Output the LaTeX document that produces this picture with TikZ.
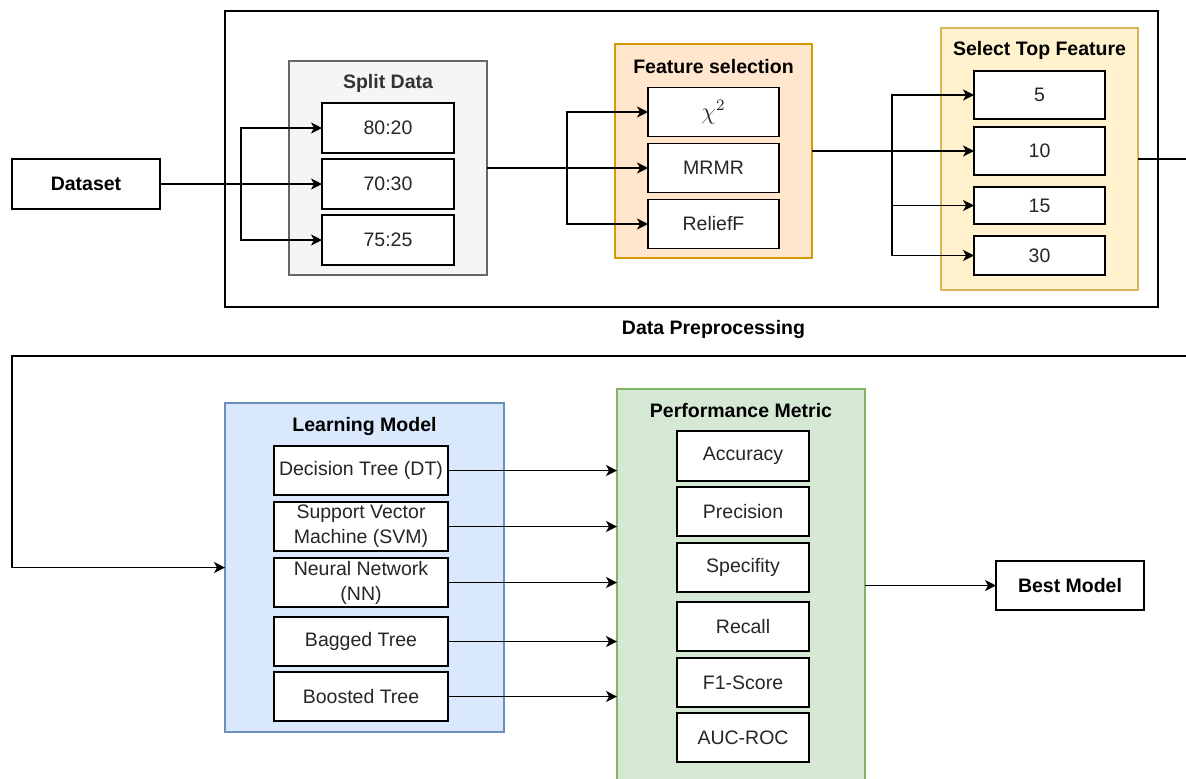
\documentclass[tikz,border=0pt]{standalone}
\usepackage{fontspec}
\setmainfont{Liberation Sans}
\usepackage{tikz}
\usetikzlibrary{arrows.meta,positioning}
\usepackage{xcolor}
\definecolor{splitfill}{HTML}{f5f5f5}
\definecolor{splitdraw}{HTML}{666666}
\definecolor{splittext}{HTML}{333333}
\definecolor{featfill}{HTML}{ffe6cc}
\definecolor{featdraw}{HTML}{d79b00}
\definecolor{topfill}{HTML}{fff2cc}
\definecolor{topdraw}{HTML}{d6b656}
\definecolor{learnfill}{HTML}{dae8fc}
\definecolor{learndraw}{HTML}{6c8ebf}
\definecolor{perffill}{HTML}{d5e8d4}
\definecolor{perfdraw}{HTML}{82b366}

\begin{document}
\begin{tikzpicture}[x=0.5pt,y=-0.5pt,
    font=\fontsize{9.75}{12.5}\selectfont,
    item/.style={draw=black,line width=0.75pt,fill=white,inner sep=1pt,outer sep=0pt,align=center,text=black!85},
    group/.style={line width=0.6pt,outer sep=0pt},
    grouptitle/.style={font=\fontsize{9.75}{12.5}\selectfont\bfseries,anchor=center,yshift=-11pt},
    arr/.style={line width=0.6pt,-{Stealth[length=5.5pt,width=5.5pt,inset=1.5pt]}},
    link/.style={line width=0.6pt}]
  \useasboundingbox (0,0) rectangle (1186,778);
  \clip (0,0) rectangle (1186,778);
  \fill[white] (0,0) rectangle (1186,778);

  \node[draw=black,line width=0.75pt,outer sep=0pt,minimum width=74pt,minimum height=25pt,font=\fontsize{9.75}{12.5}\selectfont\bfseries] (dataset) at (86,184) {Dataset};

  \node[draw=black,line width=0.75pt,minimum width=466.5pt,minimum height=148pt,
        label={[grouptitle,xshift=11pt]south:Data Preprocessing}] (prep) at (691.5,159) {};

  \node[group,fill=splitfill,draw=splitdraw,minimum width=99pt,minimum height=107pt,
        label={[grouptitle,text=splittext]north:Split Data}] (split) at (388,168) {};
  \node[item,minimum width=66pt,minimum height=25pt] (s8020) at (388,128) {80:20};
  \node[item,minimum width=66pt,minimum height=25pt,below=3pt of s8020] (s7030) {70:30};
  \node[item,minimum width=66pt,minimum height=25pt,below=3pt of s7030] (s7525) {75:25};

  \node[group,fill=featfill,draw=featdraw,minimum width=98.5pt,minimum height=107pt,
        label={[grouptitle,yshift=-0.5pt]north:Feature selection}] (feat) at (713.5,151) {};
  \node[item,minimum width=65.5pt,minimum height=24.5pt] (chi) at (713.5,112) {\large$\chi^2$};
  \node[item,minimum width=65.5pt,minimum height=24.5pt,below=3.5pt of chi] (mrmr) {MRMR};
  \node[item,minimum width=65.5pt,minimum height=24.5pt,below=3.5pt of mrmr] (relief) {ReliefF};

  \node[group,fill=topfill,draw=topdraw,minimum width=98.5pt,minimum height=131pt,
        label={[grouptitle]north:Select Top Feature}] (top) at (1039.5,159) {};
  \node[item,minimum width=65.5pt,minimum height=24pt] (k5) at (1039.5,95) {5};
  \node[item,minimum width=65.5pt,minimum height=24pt,below=4pt of k5] (k10) {10};
  \node[item,minimum width=65.5pt,minimum height=18.5pt,below=6pt of k10] (k15) {15};
  \node[item,minimum width=65.5pt,minimum height=19.5pt,below=6pt of k15] (k30) {30};

  \coordinate (j1) at (241,184);
  \coordinate (j2) at (567,168);
  \coordinate (j3) at (892,151);
  \draw[arr] (dataset) -- (s7030);
  \draw[arr] (j1) |- (s8020);
  \draw[arr] (j1) |- (s7525);
  \draw[arr] (split) -- (mrmr);
  \draw[arr] (j2) |- (chi);
  \draw[arr] (j2) |- (relief);
  \draw[arr] (feat) -- (k10);
  \draw[arr] (j3) |- (k5);
  \draw[arr] (j3) |- (k15);
  \draw[arr] (j3) |- (k30);

  \coordinate (exitT) at (1186,159);
  \coordinate (exitB) at (1186,356);
  \coordinate (turn) at (12,356);
  \draw[link] (top) -- (exitT);

  \node[group,fill=learnfill,draw=learndraw,minimum width=139.5pt,minimum height=164.5pt,
        label={[grouptitle,yshift=-0.5pt]north:Learning Model}] (learn) at (364.5,567.5) {};
  \node[item,minimum width=87pt,minimum height=24.5pt] (dt) at (361,470.5) {Decision Tree (DT)};
  \node[item,minimum width=87pt,minimum height=24.5pt,below=3.5pt of dt] (svm) {Support Vector\\Machine (SVM)};
  \node[item,minimum width=87pt,minimum height=24.5pt,below=3.5pt of svm] (nn) {Neural Network\\(NN)};
  \node[item,minimum width=87pt,minimum height=24.5pt,below=5pt of nn] (bag) {Bagged Tree};
  \node[item,minimum width=87pt,minimum height=24.5pt,below=3pt of bag] (boost) {Boosted Tree};

  \draw[arr] (exitB) -- (turn) |- (learn);

  \node[group,fill=perffill,draw=perfdraw,minimum width=124pt,minimum height=205.5pt,
        label={[grouptitle]north:Performance Metric}] (perf) at (741,594.5) {};
  \node[item,minimum width=66pt,minimum height=25pt] (acc) at (743,456) {Accuracy};
  \node[item,minimum width=66pt,minimum height=24.5pt,below=3pt of acc] (prec) {Precision};
  \node[item,minimum width=66pt,minimum height=24.5pt,below=3.5pt of prec] (spec) {Specifity};
  \node[item,minimum width=66pt,minimum height=24.5pt,below=5pt of spec] (rec) {Recall};
  \node[item,minimum width=66pt,minimum height=24.5pt,below=3.5pt of rec] (f1) {F1-Score};
  \node[item,minimum width=66pt,minimum height=24.5pt,below=3pt of f1] (auc) {AUC-ROC};

  \foreach \m in {dt,svm,nn,bag,boost}
    \draw[arr] (\m) -- (\m -| perf.west);

  \node[draw=black,line width=0.75pt,outer sep=0pt,minimum width=74pt,minimum height=24.5pt,font=\fontsize{9.75}{12.5}\selectfont\bfseries] (best) at (1070,585.5) {Best Model};
  \draw[arr] (perf.east |- best) -- (best);
\end{tikzpicture}
\end{document}
